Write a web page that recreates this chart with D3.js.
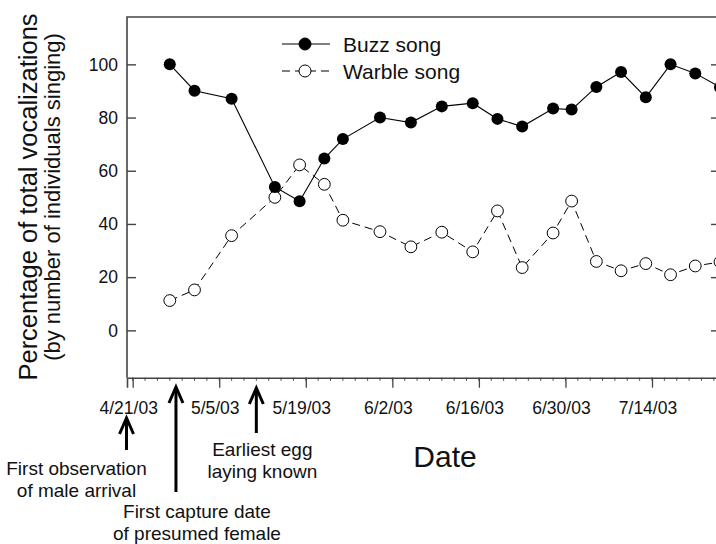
<!DOCTYPE html>
<html>
<head>
<meta charset="utf-8">
<script src="https://cdn.jsdelivr.net/npm/d3@7"></script>
<style>
  html, body { margin: 0; padding: 0; background: #fff; }
  svg { display: block; font-family: "Liberation Sans", Arial, sans-serif; }
</style>
</head>
<body>
<svg id="chart" width="716" height="544"></svg>
<script>
// ---- data ----
const dates = ["4/27/03","5/1/03","5/7/03","5/14/03","5/18/03","5/22/03","5/25/03","5/31/03","6/5/03","6/10/03","6/15/03","6/19/03","6/23/03","6/28/03","7/1/03","7/5/03","7/9/03","7/13/03","7/17/03","7/21/03","7/25/03"];
const buzz = [100, 90.1, 87.1, 53.9, 48.5, 64.6, 71.9, 80, 78.1, 84.2, 85.4, 79.5, 76.6, 83.4, 83.0, 91.5, 97.1, 87.6, 100, 96.6, 91.4];
const warble = [11.2, 15.2, 35.6, 50.0, 62.2, 54.9, 41.4, 37.1, 31.4, 36.9, 29.5, 44.9, 23.6, 36.6, 48.6, 25.9, 22.4, 25.1, 20.9, 24.2, 25.7];
const xTickLabels = ["4/21/03","5/5/03","5/19/03","6/2/03","6/16/03","6/30/03","7/14/03"];
const yTicks = [0, 20, 40, 60, 80, 100];
const seriesNames = ["Buzz song", "Warble song"];
const annotations = [
  {date: "4/20/03", lines: ["First observation", "of male arrival"]},
  {date: "4/28/03", lines: ["First capture date", "of presumed female"]},
  {date: "5/11/03", lines: ["Earliest egg", "laying known"]}
];

// ---- setup ----
const parse = d3.utcParse("%m/%d/%y");
const svg = d3.select("#chart");
const DAY = 86400000;
const x0 = parse("4/21/03");
const x = d3.scaleUtc()
  .domain([new Date(+x0 - 0.92 * DAY), parse("7/25/03")])
  .range([127, 720]);
const y = d3.scaleLinear().domain([-17.8, 117.8]).range([377.7, 17]);

const axisColor = "#444";

// frame (top, left, right)
svg.append("path")
  .attr("d", `M${x.range()[0]},${y.range()[0]}V${y.range()[1]}H${x.range()[1]}V${y.range()[0]}`)
  .attr("fill", "none").attr("stroke", axisColor).attr("stroke-width", 1.6);

// y axis (left) — ticks pointing inward
const yAxisL = svg.append("g").attr("transform", `translate(${x.range()[0]},0)`)
  .call(d3.axisRight(y).tickValues(yTicks).tickSize(9).tickFormat(""));
yAxisL.select(".domain").remove();
yAxisL.selectAll("line").attr("stroke", axisColor).attr("stroke-width", 1.4);
svg.append("g").selectAll("text").data(yTicks).join("text")
  .attr("x", 118).attr("y", d => y(d)).attr("dy", "0.36em")
  .attr("text-anchor", "end").attr("font-size", 17.5).attr("fill", "#111")
  .text(d => d);

// y axis (right)
const yAxisR = svg.append("g").attr("transform", `translate(${x.range()[1]},0)`)
  .call(d3.axisLeft(y).tickValues(yTicks).tickSize(9).tickFormat(""));
yAxisR.select(".domain").remove();
yAxisR.selectAll("line").attr("stroke", axisColor).attr("stroke-width", 1.4);

// x axis
const xTicks = xTickLabels.map(parse);
const xAxis = svg.append("g").attr("transform", `translate(0,${y.range()[0]})`)
  .call(d3.axisBottom(x).tickValues(xTicks).tickSize(10).tickFormat(""));
xAxis.select(".domain").attr("stroke", axisColor).attr("stroke-width", 1.6);
xAxis.selectAll(".tick line").attr("stroke", axisColor).attr("stroke-width", 1.3);
// minor ticks every 2 days
const minor = d3.utcDay.range(x0, x.domain()[1], 1).filter((d, i) => i % 2 === 0);
svg.append("g").selectAll("line").data(minor).join("line")
  .attr("x1", d => x(d)).attr("x2", d => x(d))
  .attr("y1", y.range()[0]).attr("y2", y.range()[0] + 3)
  .attr("stroke", axisColor).attr("stroke-width", 1);
svg.append("g").selectAll("text").data(xTickLabels).join("text")
  .attr("x", d => x(parse(d)) - 4).attr("y", 413.5)
  .attr("text-anchor", "middle").attr("font-size", 17.5).attr("fill", "#111")
  .text(d => d);

// axis titles
svg.append("text")
  .attr("transform", `translate(37,197) rotate(-90)`)
  .attr("text-anchor", "middle").attr("font-size", 25.5).attr("fill", "#111")
  .text("Percentage of total vocalizations");
svg.append("text")
  .attr("transform", `translate(60,197) rotate(-90)`)
  .attr("text-anchor", "middle").attr("font-size", 22).attr("fill", "#111")
  .text("(by number of individuals singing)");
svg.append("text")
  .attr("x", 445).attr("y", 467)
  .attr("text-anchor", "middle").attr("font-size", 30).attr("fill", "#111")
  .text("Date");

// ---- series ----
const pts = dates.map((d, i) => ({date: parse(d), buzz: buzz[i], warble: warble[i]}));
const lineB = d3.line().x(d => x(d.date)).y(d => y(d.buzz));
const lineW = d3.line().x(d => x(d.date)).y(d => y(d.warble));

svg.append("path").datum(pts).attr("d", lineW)
  .attr("fill", "none").attr("stroke", "#000").attr("stroke-width", 1)
  .attr("stroke-dasharray", "8,5");
svg.append("path").datum(pts).attr("d", lineB)
  .attr("fill", "none").attr("stroke", "#000").attr("stroke-width", 1.1);

svg.append("g").selectAll("circle").data(pts).join("circle")
  .attr("cx", d => x(d.date)).attr("cy", d => y(d.warble)).attr("r", 5.9)
  .attr("fill", "#fff").attr("stroke", "#000").attr("stroke-width", 1);
svg.append("g").selectAll("circle").data(pts).join("circle")
  .attr("cx", d => x(d.date)).attr("cy", d => y(d.buzz)).attr("r", 6)
  .attr("fill", "#000");

// ---- legend ----
const legend = svg.append("g");
const legItems = [
  {name: seriesNames[0], fill: "#000", dash: null, yy: 44},
  {name: seriesNames[1], fill: "#fff", dash: "8,5", yy: 71}
];
legItems.forEach(it => {
  legend.append("line").attr("x1", 282).attr("x2", 330).attr("y1", it.yy).attr("y2", it.yy)
    .attr("stroke", "#000").attr("stroke-width", 1).attr("stroke-dasharray", it.dash);
  legend.append("circle").attr("cx", 305).attr("cy", it.yy).attr("r", 6)
    .attr("fill", it.fill).attr("stroke", "#000").attr("stroke-width", 1);
  legend.append("text").attr("x", 343).attr("y", it.yy + 7.5)
    .attr("font-size", 21).attr("fill", "#111").text(it.name);
});

// ---- annotations ----
const arrowGeom = [
  {top: 418, bottom: 450, textY: 475},
  {top: 387, bottom: 492, textY: 518},
  {top: 388, bottom: 433, textY: 456}
];
annotations.forEach((a, i) => {
  const g = svg.append("g");
  const ax = x(parse(a.date));
  const geo = arrowGeom[i];
  g.append("line").attr("x1", ax).attr("x2", ax).attr("y1", geo.top + 1).attr("y2", geo.bottom)
    .attr("stroke", "#000").attr("stroke-width", 3);
  g.append("path")
    .attr("d", `M${ax - 7},${geo.top + 16}L${ax},${geo.top}L${ax + 7},${geo.top + 16}`)
    .attr("fill", "none").attr("stroke", "#000").attr("stroke-width", 3)
    .attr("stroke-linejoin", "miter");
  const tx = i === 0 ? ax - 50 : (i === 1 ? ax + 21 : ax + 6);
  a.lines.forEach((ln, j) => {
    g.append("text").attr("x", tx).attr("y", geo.textY + j * 22)
      .attr("text-anchor", "middle").attr("font-size", 19).attr("fill", "#111")
      .text(ln);
  });
});
</script>
</body>
</html>
